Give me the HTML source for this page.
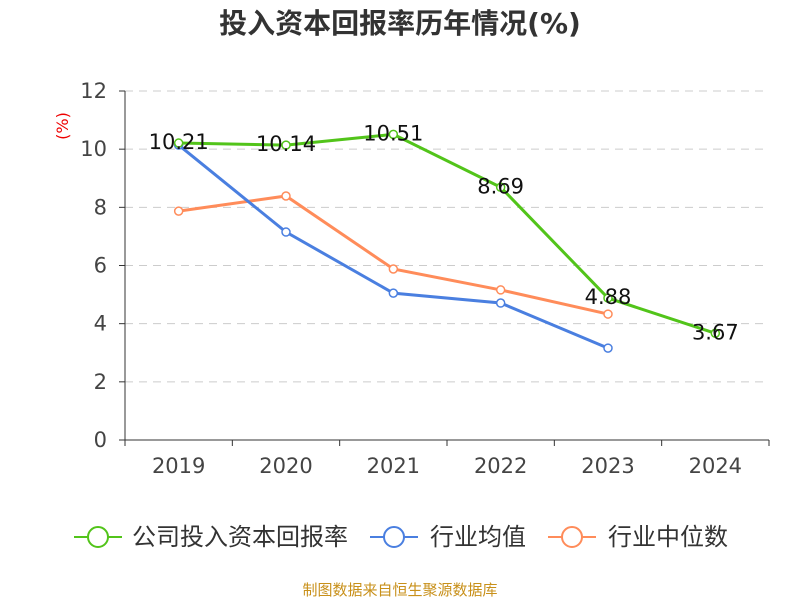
<!DOCTYPE html>
<html><head><meta charset="utf-8"><style>
body{margin:0;background:#fff;}
svg text{font-family:"DejaVu Sans","Noto Sans CJK SC",sans-serif;}
</style></head><body>
<svg id="chart" width="800" height="600" xmlns="http://www.w3.org/2000/svg">
<text x="400" y="33" text-anchor="middle" font-size="28" font-weight="bold" fill="#333">投入资本回报率历年情况(%)</text>
<text transform="translate(68,126) rotate(-90)" text-anchor="middle" font-size="16" fill="#e00">(%)</text>
<g id="grid"></g><g id="axes"></g><g id="series"></g>
<g>
<g><line x1="74" y1="537" x2="122" y2="537" stroke="#52c41a" stroke-width="2"/><circle cx="98" cy="537" r="10" fill="#fff" stroke="#52c41a" stroke-width="2"/><text x="132" y="545" font-size="24" fill="#333">公司投入资本回报率</text></g>
<g><line x1="370" y1="537" x2="418" y2="537" stroke="#4a7fe0" stroke-width="2"/><circle cx="394" cy="537" r="10" fill="#fff" stroke="#4a7fe0" stroke-width="2"/><text x="430" y="545" font-size="24" fill="#333">行业均值</text></g>
<g><line x1="548" y1="537" x2="596" y2="537" stroke="#ff8c5a" stroke-width="2"/><circle cx="572" cy="537" r="10" fill="#fff" stroke="#ff8c5a" stroke-width="2"/><text x="608" y="545" font-size="24" fill="#333">行业中位数</text></g>
</g>
<text x="400" y="595" text-anchor="middle" font-size="15" fill="#c8901a">制图数据来自恒生聚源数据库</text>
</svg>
<script>
const categories=["2019","2020","2021","2022","2023","2024"];
const companyValues=[10.21,10.14,10.51,8.69,4.88,3.67];
const industryAvg=[10.14,7.15,5.05,4.71,3.16,null];
const industryMedian=[7.87,8.39,5.88,5.16,4.33,null];
const yTicks=[0,2,4,6,8,10,12];
const NS="http://www.w3.org/2000/svg";
const L=125,R=769,T=91,B=440,yMax=12;
const bw=(R-L)/categories.length;
const xs=i=>L+bw*(i+0.5);
const ys=v=>B-(v/yMax)*(B-T);
function mk(p,tag,a){const e=document.createElementNS(NS,tag);for(const k in a)e.setAttribute(k,a[k]);p.appendChild(e);return e;}
const grid=document.getElementById('grid'),axes=document.getElementById('axes'),ser=document.getElementById('series');
yTicks.forEach(t=>{
 if(t>0){const g=mk(grid,'line',{x1:L,x2:R,y1:ys(t),y2:ys(t),stroke:'#ccc','stroke-dasharray':'8,6'});
 
 }
 mk(axes,'line',{x1:L-6,x2:L,y1:ys(t),y2:ys(t),stroke:'#333'});
 const tx=mk(axes,'text',{x:L-18,y:ys(t)+7,'text-anchor':'end','font-size':21,fill:'#444'});tx.textContent=t;
 
 
});
mk(axes,'line',{x1:L,x2:L,y1:T,y2:B,stroke:'#333'});
mk(axes,'line',{x1:L,x2:R,y1:B,y2:B,stroke:'#333'});
for(let i=0;i<=categories.length;i++)mk(axes,'line',{x1:L+bw*i,x2:L+bw*i,y1:B,y2:B+6,stroke:'#333'});
categories.forEach((c,i)=>{const tx=mk(axes,'text',{x:xs(i),y:B+33,'text-anchor':'middle','font-size':21,fill:'#444'});tx.textContent=c;
 
 });
function draw(vals,color,name,labels){
 const pts=vals.map((v,i)=>v==null?null:[xs(i),ys(v)]).filter(p=>p);
 const pl=mk(ser,'polyline',{points:pts.map(p=>p.join(',')).join(' '),fill:'none',stroke:color,'stroke-width':3});
 
 
 vals.forEach((v,i)=>{if(v==null)return;
  const c=mk(ser,'circle',{cx:xs(i),cy:ys(v),r:4,fill:'#fff',stroke:color,'stroke-width':1.5});
  
  
  if(labels){const t=mk(ser,'text',{x:xs(i),y:ys(v)+6,'text-anchor':'middle','font-size':21,fill:'#111'});t.textContent=v.toFixed(2);
   
   }
 });
}
draw(industryMedian,'#ff8c5a','industry-median',false);
draw(industryAvg,'#4a7fe0','industry-avg',false);
draw(companyValues,'#52c41a','company',true);
</script>
</body></html>
